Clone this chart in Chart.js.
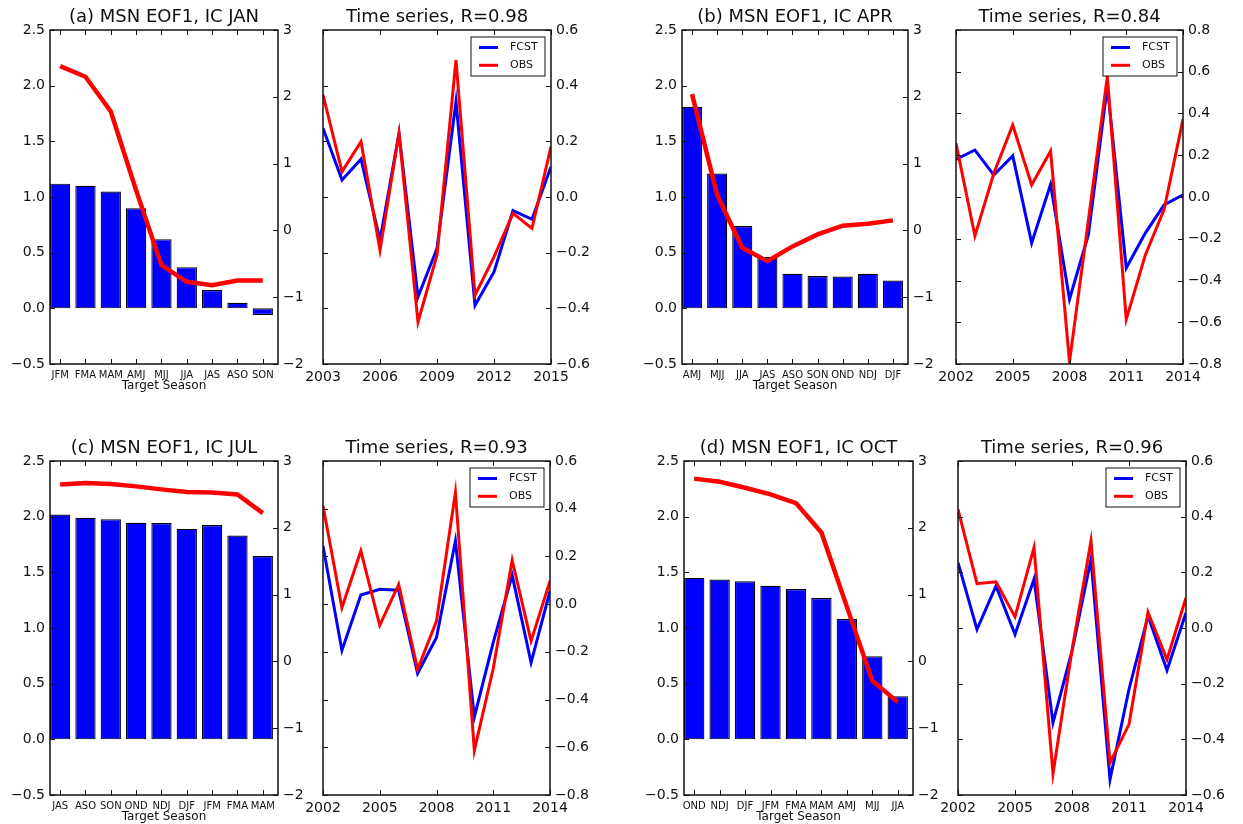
<!DOCTYPE html>
<html>
<head>
<meta charset="utf-8">
<title>MSN EOF1</title>
<script src="https://cdn.jsdelivr.net/npm/chart.js@4.4.0/dist/chart.umd.min.js"></script>
<style>
  body { margin: 0; background: #fff; }
  #page { position: relative; width: 1243px; height: 824px; overflow: hidden; }
  canvas { position: absolute; }
</style>
</head>
<body>
<div id="page"></div>
<script>
// ---- data ----
const seasonsA = ['JFM', 'FMA', 'MAM', 'AMJ', 'MJJ', 'JJA', 'JAS', 'ASO', 'SON'];
const ampA = [1.12, 1.10, 1.05, 0.90, 0.62, 0.37, 0.165, 0.05, -0.06];
const corrA = [2.46, 2.30, 1.78, 0.60, -0.52, -0.77, -0.82, -0.75, -0.75];
const yearsA = [2003, 2004, 2005, 2006, 2007, 2008, 2009, 2010, 2011, 2012, 2013, 2014, 2015];
const yearTicksA = [2003, 2006, 2009, 2012, 2015];
const fcstA = [0.247, 0.061, 0.136, -0.155, 0.229, -0.359, -0.185, 0.343, -0.389, -0.269, -0.049, -0.08, 0.109];
const obsA = [0.367, 0.091, 0.199, -0.191, 0.229, -0.449, -0.209, 0.493, -0.353, -0.215, -0.059, -0.113, 0.181];

const seasonsB = ['AMJ', 'MJJ', 'JJA', 'JAS', 'ASO', 'SON', 'OND', 'NDJ', 'DJF'];
const ampB = [1.81, 1.21, 0.74, 0.46, 0.31, 0.29, 0.285, 0.31, 0.25];
const corrB = [2.04, 0.53, -0.26, -0.46, -0.24, -0.06, 0.07, 0.10, 0.15];
const yearsB = [2002, 2003, 2004, 2005, 2006, 2007, 2008, 2009, 2010, 2011, 2012, 2013, 2014];
const yearTicksB = [2002, 2005, 2008, 2011, 2014];
const fcstB = [0.18, 0.225, 0.105, 0.197, -0.22, 0.061, -0.49, -0.18, 0.53, -0.34, -0.174, -0.038, 0.01];
const obsB = [0.257, -0.186, 0.114, 0.345, 0.058, 0.22, -0.79, -0.11, 0.577, -0.586, -0.28, -0.06, 0.372];

const seasonsC = ['JAS', 'ASO', 'SON', 'OND', 'NDJ', 'DJF', 'JFM', 'FMA', 'MAM'];
const ampC = [2.02, 1.99, 1.976, 1.946, 1.943, 1.89, 1.925, 1.83, 1.647];
const corrC = [2.65, 2.67, 2.655, 2.62, 2.575, 2.535, 2.53, 2.50, 2.22];
const yearsC = [2002, 2003, 2004, 2005, 2006, 2007, 2008, 2009, 2010, 2011, 2012, 2013, 2014];
const yearTicksC = [2002, 2005, 2008, 2011, 2014];
const fcstC = [0.244, -0.194, 0.038, 0.062, 0.058, -0.291, -0.14, 0.265, -0.473, -0.16, 0.121, -0.245, 0.055];
const obsC = [0.412, -0.015, 0.223, -0.089, 0.083, -0.273, -0.071, 0.468, -0.613, -0.27, 0.184, -0.155, 0.097];

const seasonsD = ['OND', 'NDJ', 'DJF', 'JFM', 'FMA', 'MAM', 'AMJ', 'MJJ', 'JJA'];
const ampD = [1.45, 1.436, 1.42, 1.38, 1.35, 1.27, 1.08, 0.746, 0.388];
const corrD = [2.736, 2.69, 2.60, 2.50, 2.37, 1.93, 0.82, -0.29, -0.61];
const yearsD = [2002, 2003, 2004, 2005, 2006, 2007, 2008, 2009, 2010, 2011, 2012, 2013, 2014];
const yearTicksD = [2002, 2005, 2008, 2011, 2014];
const fcstD = [0.235, -0.005, 0.151, -0.023, 0.175, -0.34, -0.083, 0.247, -0.544, -0.22, 0.043, -0.152, 0.055];
const obsD = [0.426, 0.159, 0.166, 0.04, 0.289, -0.523, -0.08, 0.313, -0.484, -0.346, 0.057, -0.113, 0.109];

// ---- look ----
Chart.defaults.font.family = 'DejaVu Sans';
Chart.defaults.color = '#111';
Chart.defaults.animation = false;

const PAD = 55;
const noGrid = { display: false, drawTicks: false };
const minus = s => s.replace('-', '\u2212');
const fmt1 = v => minus((Math.abs(v) < 1e-9 ? 0 : v).toFixed(1));

// matplotlib style frame with inward ticks
const mplAxes = {
    id: 'mplAxes',
    afterDatasetsDraw(chart) {
        const { ctx, chartArea: a } = chart;
        const len = 5;
        ctx.save();
        ctx.strokeStyle = '#111';
        ctx.lineWidth = 1;
        ctx.beginPath();
        Object.values(chart.scales).forEach(s => {
            s.ticks.forEach(t => {
                const p = Math.round(s.getPixelForValue(t.value)) + 0.5;
                if (s.axis === 'x') {
                    ctx.moveTo(p, a.bottom); ctx.lineTo(p, a.bottom - len);
                    ctx.moveTo(p, a.top); ctx.lineTo(p, a.top + len);
                } else if (s.position === 'left') {
                    ctx.moveTo(a.left, p); ctx.lineTo(a.left + len, p);
                } else {
                    ctx.moveTo(a.right, p); ctx.lineTo(a.right - len, p);
                }
            });
        });
        ctx.stroke();
        ctx.lineWidth = 1.5;
        ctx.strokeRect(a.left, a.top, a.right - a.left, a.bottom - a.top);
        ctx.restore();
    }
};

// boxed legend in the upper right corner
const boxLegend = {
    id: 'boxLegend',
    afterDatasetsDraw(chart) {
        const { ctx, chartArea: a } = chart;
        const w = 74, h = 39;
        const x0 = a.right - 6 - w, y0 = a.top + 7;
        ctx.save();
        ctx.fillStyle = '#fff';
        ctx.fillRect(x0, y0, w, h);
        ctx.strokeStyle = '#111';
        ctx.lineWidth = 1;
        ctx.strokeRect(x0, y0, w, h);
        ctx.font = '11px "DejaVu Sans"';
        ctx.textBaseline = 'middle';
        chart.data.datasets.forEach((ds, i) => {
            const cy = y0 + 10.5 + i * 17.8;
            ctx.strokeStyle = ds.borderColor;
            ctx.lineWidth = 3;
            ctx.beginPath(); ctx.moveTo(x0 + 8, cy); ctx.lineTo(x0 + 27, cy); ctx.stroke();
            ctx.fillStyle = '#111';
            ctx.fillText(ds.label, x0 + 39, cy);
        });
        ctx.restore();
    }
};

function titleOpts(text) {
    return { display: true, text: text, color: '#111', font: { size: 18, weight: 'normal' }, padding: { top: 7, bottom: 1.4 } };
}

function makeCanvas(area) {
    const c = document.createElement('canvas');
    c.width = area.right - area.left + 2 * PAD;
    c.height = area.bottom - area.top + 66;
    c.style.left = (area.left - PAD) + 'px';
    c.style.top = (area.top - 30) + 'px';
    document.getElementById('page').appendChild(c);
    return c;
}

function barPanel(area, title, seasons, amp, corr) {
    return new Chart(makeCanvas(area), {
        type: 'bar',
        data: {
            datasets: [
                {
                    type: 'line',
                    data: corr.map((v, i) => ({ x: i + 0.4, y: v })),
                    yAxisID: 'y2',
                    borderColor: '#ff0000',
                    borderWidth: 4.5,
                    pointRadius: 0,
                    order: 0
                },
                {
                    data: amp.map((v, i) => ({ x: i + 0.4, y: v })),
                    yAxisID: 'y',
                    backgroundColor: '#0000ff',
                    borderColor: '#000',
                    borderWidth: 1.2,
                    borderSkipped: false,
                    barPercentage: 0.8,
                    categoryPercentage: 1,
                    order: 1
                }
            ]
        },
        options: {
            responsive: false,
            plugins: {
                legend: { display: false },
                tooltip: { enabled: false },
                title: titleOpts(title)
            },
            scales: {
                x: {
                    type: 'linear', min: 0, max: seasons.length, offset: false,
                    grid: noGrid, border: { display: false },
                    afterBuildTicks: s => { s.ticks = seasons.map((_, i) => ({ value: i + 0.4 })); },
                    ticks: { autoSkip: false, maxRotation: 0, padding: 5, font: { size: 10 }, callback: (v, i) => seasons[i] },
                    title: { display: true, text: 'Target Season', font: { size: 12 }, padding: { top: 0, bottom: 6.8 } },
                    afterFit: s => { s.height = 36; }
                },
                y: {
                    position: 'left', min: -0.5, max: 2.5,
                    grid: noGrid, border: { display: false },
                    ticks: { stepSize: 0.5, padding: 5, font: { size: 14 }, callback: fmt1 },
                    afterFit: s => { s.width = PAD; }
                },
                y2: {
                    position: 'right', min: -2, max: 3,
                    grid: noGrid, border: { display: false },
                    ticks: { stepSize: 1, padding: 5, font: { size: 14 }, callback: v => minus(String(v)) },
                    afterFit: s => { s.width = PAD; }
                }
            }
        },
        plugins: [mplAxes]
    });
}

function tsPanel(area, title, years, yearTicks, fcst, obs, lo, hi) {
    return new Chart(makeCanvas(area), {
        type: 'line',
        data: {
            datasets: [
                { label: 'FCST', data: years.map((y, i) => ({ x: y, y: fcst[i] })), borderColor: '#0000ff', borderWidth: 3, pointRadius: 0, order: 1 },
                { label: 'OBS', data: years.map((y, i) => ({ x: y, y: obs[i] })), borderColor: '#ff0000', borderWidth: 3, pointRadius: 0, order: 0 }
            ]
        },
        options: {
            responsive: false,
            plugins: {
                legend: { display: false },
                tooltip: { enabled: false },
                title: titleOpts(title)
            },
            scales: {
                x: {
                    type: 'linear', min: years[0], max: years[years.length - 1],
                    grid: noGrid, border: { display: false },
                    afterBuildTicks: s => { s.ticks = yearTicks.map(v => ({ value: v })); },
                    ticks: { autoSkip: false, maxRotation: 0, padding: 5, font: { size: 14 }, callback: v => String(v) },
                    afterFit: s => { s.height = 36; }
                },
                // unlabelled left axis: only carries the inward tick marks
                yl: {
                    position: 'left', min: lo, max: hi,
                    grid: noGrid, border: { display: false },
                    ticks: { stepSize: 0.2, padding: 5, font: { size: 14 }, color: 'rgba(0,0,0,0)', callback: fmt1 },
                    afterFit: s => { s.width = PAD; }
                },
                y: {
                    position: 'right', min: lo, max: hi,
                    grid: noGrid, border: { display: false },
                    ticks: { stepSize: 0.2, padding: 5, font: { size: 14 }, callback: fmt1 },
                    afterFit: s => { s.width = PAD; }
                }
            }
        },
        plugins: [mplAxes, boxLegend]
    });
}

// ---- panels ----
barPanel({ left: 50, right: 278, top: 30, bottom: 364 }, '(a) MSN EOF1, IC JAN', seasonsA, ampA, corrA);
tsPanel({ left: 323, right: 551, top: 30, bottom: 364 }, 'Time series, R=0.98', yearsA, yearTicksA, fcstA, obsA, -0.6, 0.6);

barPanel({ left: 682, right: 908, top: 30, bottom: 364 }, '(b) MSN EOF1, IC APR', seasonsB, ampB, corrB);
tsPanel({ left: 956, right: 1183, top: 30, bottom: 364 }, 'Time series, R=0.84', yearsB, yearTicksB, fcstB, obsB, -0.8, 0.8);

barPanel({ left: 50, right: 278, top: 461, bottom: 795 }, '(c) MSN EOF1, IC JUL', seasonsC, ampC, corrC);
tsPanel({ left: 323, right: 550, top: 461, bottom: 795 }, 'Time series, R=0.93', yearsC, yearTicksC, fcstC, obsC, -0.8, 0.6);

barPanel({ left: 684, right: 913, top: 461, bottom: 795 }, '(d) MSN EOF1, IC OCT', seasonsD, ampD, corrD);
tsPanel({ left: 958, right: 1186, top: 461, bottom: 795 }, 'Time series, R=0.96', yearsD, yearTicksD, fcstD, obsD, -0.6, 0.6);
</script>
</body>
</html>
